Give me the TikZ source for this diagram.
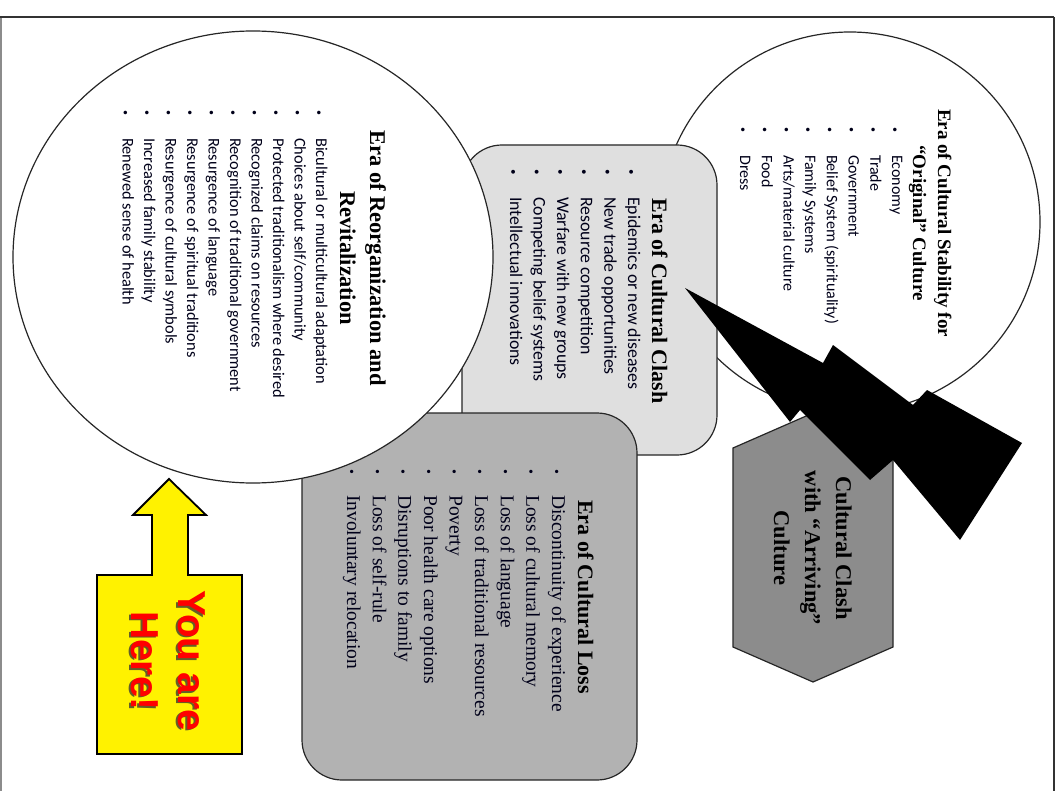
\documentclass[tikz,border=0pt]{standalone}
\usepackage{fontspec}
\setmainfont{Liberation Serif}
\newfontfamily\calfont{Carlito}
\newfontfamily\arialfont{Liberation Sans}
\newcommand{\smbul}[1]{{\fontsize{#1}{#1}\selectfont\textbullet}}
\begin{document}
\begin{tikzpicture}[x=1pt,y=-1pt,
  outl/.style={draw=black!85, line width=1.2pt},
  headA/.style={rotate=-90, anchor=base, inner sep=0pt, font=\bfseries\fontsize{22.5}{27}\selectfont},
  headB/.style={rotate=-90, anchor=base, inner sep=0pt, font=\bfseries\fontsize{19}{23}\selectfont},
  itemS/.style={rotate=-90, anchor=base west, inner sep=0pt, text=black!90!blue, font=\calfont\fontsize{#1}{#1}\selectfont},
  itemR/.style={rotate=-90, anchor=base west, inner sep=0pt, text=black!90!blue, font=\fontsize{19.5}{19.5}\selectfont},
  here/.style={rotate=-90, anchor=base, inner sep=0pt, font=\arialfont\bfseries\fontsize{39}{39}\selectfont}
]
\useasboundingbox (0,0) rectangle (1062,791);
\fill[white] (0,0) rectangle (1062,791);
% frame
\draw[black!45, line width=1.5pt] (1,791) -- (1,17);
\draw[black!80, line width=2pt] (0,17) -- (1054,17);
\draw[black!80, line width=2.5pt] (1054,17) -- (1054,791);

% shapes (back to front)
\draw[outl, fill=white] (850,222) circle [radius=190pt];
\draw[outl, fill=black!12.5, rounded corners=40pt] (462,145) rectangle (717,455);
\draw[outl, fill=black!30, rounded corners=40pt] (302,413) rectangle (637,780);
\draw[outl, fill=white] (253,257) ellipse [x radius=240pt, y radius=226pt];
\draw[outl, fill=black!45] (813,413) -- (893,452) -- (893,647) -- (813,682) -- (733,647) -- (733,448) -- cycle;
% lightning bolts
\fill[black] (685,288) -- (823,363) -- (833,345) -- (913,405) -- (927,390) -- (1022,443)
  -- (960,540) -- (893,460) -- (870,480) -- (800,410) -- (790,422) -- cycle;
% you are here arrow
\draw[black, line width=1.8pt, fill=yellow] (169,479) -- (206,515) -- (188,515) -- (188,575) -- (242,575)
  -- (242,754) -- (97,754) -- (97,575) -- (152,575) -- (152,515) -- (133,515) -- cycle;

% Reorganization circle text
\node[headA] (reoH1) at (370,258) {Era of Reorganization and};
\node[headA] (reoH2) at (340,258) {Revitalization};
\foreach \t [count=\i from 0] in {Bicultural or multicultural adaptation, Choices about self/community,
  Protected traditionalism where desired, Recognized claims on resources,
  Recognition of traditional government, Resurgence of language, Resurgence of spiritual traditions,
  Resurgence of cultural symbols, Increased family stability, Renewed sense of health}
  \node[itemS=16.4, name=reo\i] at ({316-21.5*\i},88) {\makebox[50pt][c]{\smbul{10}}\t};

% Stability circle text
\node[headB] (stbH1) at (938,223) {Era of Cultural Stability for};
\node[headB] (stbH2) at (913,223) {“Original” Culture};
\foreach \t [count=\i from 0] in {Economy, Trade, Government, Belief System (spirituality),
  Family Systems, Arts/material culture, Food, Dress}
  \node[itemS=16, name=stb\i] at ({892-21.7*\i},105) {\makebox[50pt][c]{\smbul{10}}\t};

% Clash box text
\node[headA, font=\bfseries\fontsize{22}{26}\selectfont] (clsH) at (652,301) {Era of Cultural Clash};
\foreach \t [count=\i from 0] in {Epidemics or new diseases, New trade opportunities, Resource competition,
  Warfare with new groups, Competing belief systems, Intellectual innovations}
  \node[itemS=17.8, name=cls\i] at ({628-23.6*\i},147) {\makebox[50pt][c]{\smbul{11}}\t};

% Loss box text
\node[headA, font=\bfseries\fontsize{22}{26}\selectfont] (losH) at (578,597) {Era of Cultural Loss};
\foreach \t [count=\i from 0] in {Discontinuity of experience, Loss of cultural memory, Loss of language,
  Loss of traditional resources, Poverty, Poor health care options, Disruptions to family,
  Loss of self-rule, Involuntary relocation}
  \node[itemR, name=los\i] at ({552-25.6*\i},449) {\makebox[46pt][c]{\smbul{14}}\t};

% hexagon text
\node[headA] (hex1) at (836,548) {Cultural Clash};
\node[headA] (hex2) at (805,548) {with “Arriving”};
\node[headA] (hex3) at (774,548) {Culture};

% You are here
\node[here, text=olive!60!black] (hereS1) at (176.5,662.5) {You are};
\node[here, text=olive!60!black] (hereS2) at (129.5,662.5) {Here!};
\node[here, text=red] (here1) at (178,661) {You are};
\node[here, text=red] (here2) at (131,661) {Here!};
\end{tikzpicture}
\end{document}
